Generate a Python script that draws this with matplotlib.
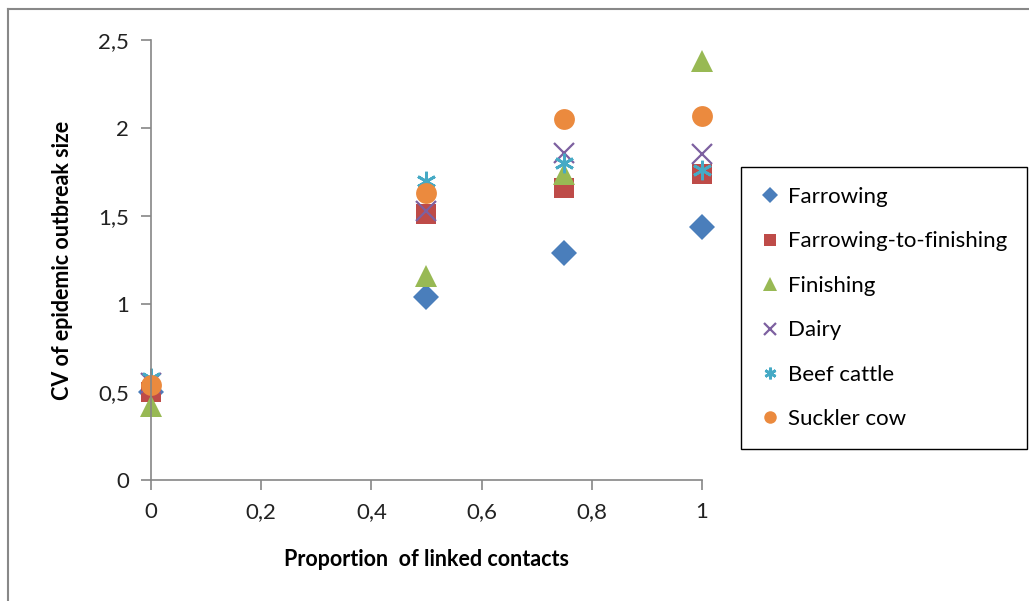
import matplotlib.pyplot as plt
from matplotlib.lines import Line2D

plt.rcParams['font.family'] = ['Lato', 'DejaVu Sans']

# data
proportion = [0, 0.5, 0.75, 1]
farrowing = [0.50, 1.04, 1.29, 1.44]
farrowing_to_finishing = [0.50, 1.51, 1.66, 1.74]
finishing = [0.42, 1.16, 1.74, 2.38]
dairy = [0.55, 1.53, 1.86, 1.85]
beef_cattle = [0.58, 1.70, 1.80, 1.76]
suckler_cow = [0.54, 1.63, 2.05, 2.07]

xticks = [0, 0.2, 0.4, 0.6, 0.8, 1]
xtick_labels = ['0', '0,2', '0,4', '0,6', '0,8', '1']
yticks = [0, 0.5, 1, 1.5, 2, 2.5]
ytick_labels = ['0', '0,5', '1', '1,5', '2', '2,5']

series = [
    ('Farrowing', farrowing, 'D', '#4A7EBB', 13),
    ('Farrowing-to-finishing', farrowing_to_finishing, 's', '#BE4B48', 14),
    ('Finishing', finishing, '^', '#98B954', 16),
    ('Dairy', dairy, 'x', '#7D60A0', 14),
    ('Beef cattle', beef_cattle, '*', '#46AAC5', 14),
    ('Suckler cow', suckler_cow, 'o', '#EB8A3E', 15),
]

fig = plt.figure(figsize=(10.29, 6.01), dpi=100)
ax = fig.add_axes([151 / 1029, 121 / 601, 551 / 1029, 440 / 601])

for name, vals, mk, col, ms in series:
    if mk == 'x':
        ax.plot(proportion, vals, ls='none', marker='x', color=col,
                markersize=ms, markeredgewidth=1.6, label=name, clip_on=False)
    elif mk == '*':
        ax.plot(proportion, vals, ls='none', marker=(6, 2, 0), color=col,
                markersize=ms, markeredgewidth=2, label=name, clip_on=False)
    else:
        ax.plot(proportion, vals, ls='none', marker=mk, color=col,
                markersize=ms, markeredgewidth=0, label=name, clip_on=False)

ax.set_xlim(0, 1)
ax.set_ylim(0, 2.5)
ax.set_xticks(xticks)
ax.set_xticklabels(xtick_labels)
ax.set_yticks(yticks)
ax.set_yticklabels(ytick_labels)

for s in ['top', 'right']:
    ax.spines[s].set_visible(False)
for s in ['left', 'bottom']:
    ax.spines[s].set_color('#868686')
    ax.spines[s].set_linewidth(1.2)
ax.tick_params(direction='out', length=7, width=1.2, color='#868686',
               labelsize=16, labelcolor='#222222', pad=9)

ax.set_xlabel('Proportion  of linked contacts', fontsize=15.5, fontweight='bold',
              labelpad=19)
ax.set_ylabel('CV of epidemic outbreak size', fontsize=15.5, fontweight='bold',
              labelpad=18)

leg = fig.legend(loc='upper left', bbox_to_anchor=(741 / 1029, 434 / 601),
                 fontsize=16, markerscale=0.6, handlelength=0.8,
                 handletextpad=0.4, labelspacing=1.1, borderpad=0.9,
                 borderaxespad=0, fancybox=False, edgecolor='black',
                 framealpha=1)
leg.get_frame().set_linewidth(1.0)

# chart area border (left and top edges)
fig.add_artist(Line2D([8 / 1029, 8 / 1029], [0, 1 - 9 / 601],
                      transform=fig.transFigure, color='#888888', lw=1.5))
fig.add_artist(Line2D([8 / 1029, 1], [1 - 9 / 601, 1 - 9 / 601],
                      transform=fig.transFigure, color='#888888', lw=1.5))

fig.savefig('out.png', dpi=100)
